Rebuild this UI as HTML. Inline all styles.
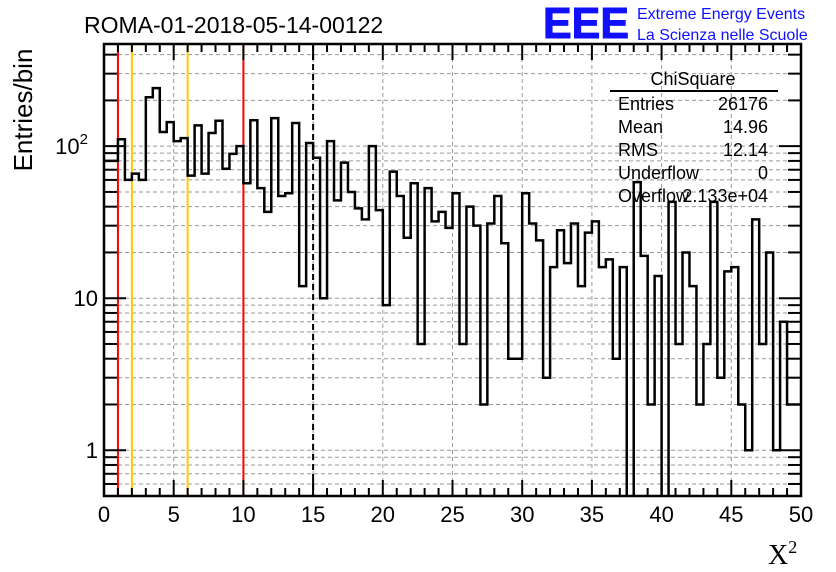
<!DOCTYPE html>
<html><head><meta charset="utf-8"><style>
body{margin:0;background:#fff}
svg{display:block;font-family:"Liberation Sans",sans-serif}
</style></head><body>
<svg id="chart" width="836" height="572" viewBox="0 0 836 572">
<g id="grid"></g>
<g id="marks"></g>
<g id="axes"></g>
<text x="84" y="33" font-size="23">ROMA-01-2018-05-14-00122</text>
<text x="543" y="38" font-size="44" font-weight="bold" fill="#1010ff" stroke="#1010ff" stroke-width="1" textLength="86" lengthAdjust="spacingAndGlyphs">EEE</text>
<text x="637" y="19" font-size="16" fill="#1010ff">Extreme Energy Events</text>
<text x="637" y="40" font-size="16" fill="#1010ff">La Scienza nelle Scuole</text>
<text transform="translate(32,110) rotate(-90)" text-anchor="middle" font-size="26">Entries/bin</text>
<text x="768" y="564" font-size="28" font-family="Liberation Serif,serif">X<tspan font-size="18" dy="-11">2</tspan></text>
<g id="stats" font-size="18">
<text x="693" y="85" text-anchor="middle">ChiSquare</text>
<line x1="610" y1="91" x2="778" y2="91" stroke="#000" stroke-width="2"/>
<text x="618" y="110">Entries</text><text x="768" y="110" text-anchor="end">26176</text>
<text x="618" y="133">Mean</text><text x="768" y="133" text-anchor="end">14.96</text>
<text x="618" y="156">RMS</text><text x="768" y="156" text-anchor="end">12.14</text>
<text x="618" y="179">Underflow</text><text x="768" y="179" text-anchor="end">0</text>
<text x="618" y="202">Overflow</text><text x="768" y="202" text-anchor="end">2.133e+04</text>
</g>
</svg>
<script>
const binCounts=[80,80,111,60,66,60,210,241,124,144,108,113,64,137,66,122,147,71,89,100,
57,148,53,37,153,47,49,142,12,105,84,10,108,44,78,50,39,33,100,38,
9,68,47,25,57,5,53,32,37,29,49,5,40,30,2,31,47,23,4,4,
49,31,24,3,16,28,17,31,12,27,32,16,18,4,16,0,58,19,2,14,
0,43,5,20,12,2,5,43,3,15,16,2,1,33,5,20,1,7,2,2];
const xMin=0,xMax=50,yMin=0.5,yMax=470;
const xTickLabels=[0,5,10,15,20,25,30,35,40,45,50];
const redLines=[1,10];
const goldLines=[2,6];
const dashedLines=[15];
const L=104,R=801,T=44,B=496;
const NS='http://www.w3.org/2000/svg';
function X(v){return L+(v-xMin)/(xMax-xMin)*(R-L);}
function Y(v){if(v<=0)return B+5;return B-(Math.log10(v)-Math.log10(yMin))/(Math.log10(yMax)-Math.log10(yMin))*(B-T);}
function mk(tag,attrs,parent){const e=document.createElementNS(NS,tag);for(const k in attrs)e.setAttribute(k,attrs[k]);parent.appendChild(e);return e;}
const grid=document.getElementById('grid'),marks=document.getElementById('marks'),axes=document.getElementById('axes');
for(const t of xTickLabels){if(t===xMin||t===xMax)continue;
const g=mk('line',{x1:X(t),x2:X(t),y1:T,y2:B,stroke:'#999','stroke-dasharray':'4,3','stroke-width':1},grid);

}
const yTicks=[];
for(let d=-1;d<=2;d++)for(let m=1;m<=9;m++){const v=m*Math.pow(10,d);if(v>=yMin&&v<=yMax)yTicks.push({v,major:m===1});}
for(const t of yTicks){
const g=mk('line',{x1:L,x2:R,y1:Y(t.v),y2:Y(t.v),stroke:'#999','stroke-dasharray':'4,3','stroke-width':1},grid);

}
const clip=mk('clipPath',{id:'pc'},marks);mk('rect',{x:L,y:T,width:R-L,height:B-T},clip);
for(const v of redLines){const l=mk('line',{x1:X(v),x2:X(v),y1:T,y2:B,stroke:'#ff0000','stroke-width':2},marks);

}
for(const v of goldLines){const l=mk('line',{x1:X(v),x2:X(v),y1:T,y2:B,stroke:'#ffcc00','stroke-width':2},marks);

}
for(const v of dashedLines){const l=mk('line',{x1:X(v),x2:X(v),y1:T,y2:B,stroke:'#000','stroke-dasharray':'6,4','stroke-width':2},marks);

}
const bw=(xMax-xMin)/binCounts.length;
let d='';
binCounts.forEach((c,i)=>{const x0=X(xMin+i*bw),x1=X(xMin+(i+1)*bw),y=Y(c);
d+=(i===0?'M'+x0+','+y:'L'+x0+','+y)+'L'+x1+','+y;});
const h=mk('path',{d:d,fill:'none',stroke:'#000','stroke-width':2.5,'clip-path':'url(#pc)'},marks);


const f=mk('rect',{x:L,y:T,width:R-L,height:B-T,fill:'none',stroke:'#000','stroke-width':2.5},axes);


for(let v=xMin;v<=xMax;v++){const maj=v%5===0,len=maj?16:8;
mk('line',{x1:X(v),x2:X(v),y1:B,y2:B-len,stroke:'#000','stroke-width':2},axes);
mk('line',{x1:X(v),x2:X(v),y1:T,y2:T+len,stroke:'#000','stroke-width':2},axes);}
for(const t of xTickLabels){const tx=mk('text',{x:X(t),y:522,'text-anchor':'middle','font-size':22},axes);tx.textContent=t;

}
for(const t of yTicks){const len=t.major?22:13;
mk('line',{x1:L,x2:L+len,y1:Y(t.v),y2:Y(t.v),stroke:'#000','stroke-width':2},axes);
mk('line',{x1:R,x2:R-len,y1:Y(t.v),y2:Y(t.v),stroke:'#000','stroke-width':2},axes);}
const yl=[{v:1,s:'1'},{v:10,s:'10'},{v:100,s:'10',e:'2'}];
for(const t of yl){const tx=mk('text',{x:t.e?88:98,y:Y(t.v)+8,'text-anchor':'end','font-size':22},axes);tx.textContent=t.s;
if(t.e){const sp=mk('tspan',{'font-size':15,dy:-10},tx);sp.textContent=t.e;}

}
</script>
</body></html>
